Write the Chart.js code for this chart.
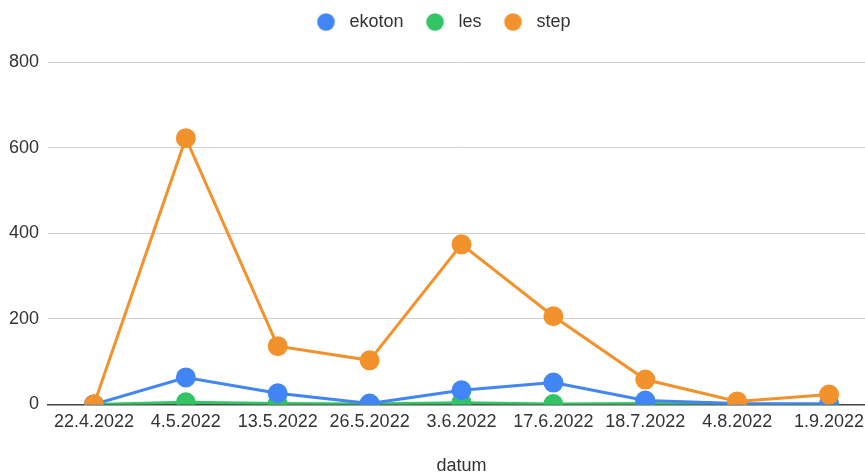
<!DOCTYPE html>
<html>
<head>
<meta charset="utf-8">
<script src="https://cdn.jsdelivr.net/npm/chart.js@4/dist/chart.umd.min.js"></script>
<style>
  html, body { margin: 0; padding: 0; background: #fff; overflow: hidden; }
  #wrap { width: 875px; height: 475px; }
</style>
</head>
<body>
<div id="wrap"><canvas id="lineReport"></canvas></div>
<script>
const dates = ["22.4.2022", "4.5.2022", "13.5.2022", "26.5.2022", "3.6.2022", "17.6.2022", "18.7.2022", "4.8.2022", "1.9.2022"];
const ekoton = [0, 63, 26, 2, 33, 51, 9, 2, 1];
const les = [0, 5, 2, 1, 4, 1, 2, 0, 1];
const step = [0, 622, 136, 103, 374, 206, 58, 7, 23];
const yTicks = [0, 200, 400, 600, 800];
const legendOrder = ["ekoton", "les", "step"];

const fontFamily = "Arial, 'Liberation Sans', sans-serif";

// legend marker: circle set inside a wider box so items get their spacing
function legendDot(color) {
  let c = document.createElement("canvas");
  c.width = 36;
  c.height = 18;
  let g = c.getContext("2d");
  g.fillStyle = color;
  g.beginPath();
  g.arc(21.5, 9, 8.8, 0, Math.PI * 2);
  g.fill();
  return c;
}

function series(label, data, color) {
  return {
    label: label,
    data: data,
    borderColor: color,
    backgroundColor: color,
    pointBackgroundColor: color,
    pointBorderColor: color,
    pointStyle: legendDot(color),
    borderWidth: 3,
    pointRadius: 8.5,
    pointHoverRadius: 8.5,
    tension: 0
  };
}

// points themselves stay plain circles
const circlePoints = {
  id: "circlePoints",
  beforeDatasetsDraw(chart) {
    chart.data.datasets.forEach((ds, i) => {
      chart.getDatasetMeta(i).data.forEach(pt => { pt.options.pointStyle = "circle"; });
    });
  }
};

// extra room under the legend
const legendGap = {
  id: "legendGap",
  beforeLayout(chart) {
    let lg = chart.legend;
    if (lg && !lg._gapAdded) {
      let fit = lg.fit;
      lg.fit = function() {
        fit.call(this);
        this.height += 21;
      };
      lg._gapAdded = true;
    }
  }
};

let ctx = document.getElementById("lineReport").getContext("2d");
new Chart(ctx, {
  type: "line",
  plugins: [circlePoints, legendGap],
  data: {
    labels: dates,
    datasets: [
      series("step", step, "#f2922c"),
      series("ekoton", ekoton, "#4285f4"),
      series("les", les, "#33c465")
    ]
  },
  options: {
    responsive: true,
    maintainAspectRatio: false,
    animation: false,
    layout: { autoPadding: false, padding: { top: 3, right: 0, bottom: 0, left: 0 } },
    plugins: {
      legend: {
        position: "top",
        labels: {
          usePointStyle: true,
          boxHeight: 12,
          pointStyleWidth: 36,
          padding: 10,
          color: "#333",
          font: { family: fontFamily, size: 18 },
          sort: (a, b) => legendOrder.indexOf(a.text) - legendOrder.indexOf(b.text)
        }
      },
      tooltip: { enabled: false }
    },
    scales: {
      x: {
        offset: true,
        grid: { display: false, drawTicks: false },
        border: { display: true, color: "#444", width: 1.5 },
        ticks: {
          color: "#333",
          padding: 7,
          maxRotation: 0,
          autoSkip: false,
          font: { family: fontFamily, size: 18 }
        },
        title: {
          display: true,
          text: "datum",
          color: "#333",
          padding: { top: 17, bottom: 0 },
          font: { family: fontFamily, size: 18, lineHeight: 1 }
        }
      },
      y: {
        min: 0,
        max: 800,
        afterBuildTicks: axis => { axis.ticks = yTicks.map(v => ({ value: v })); },
        afterFit: axis => { axis.width = 48; },
        grid: { color: "#d0d0d0", drawTicks: false },
        border: { display: false },
        ticks: {
          color: "#333",
          padding: 9,
          font: { family: fontFamily, size: 18 }
        }
      }
    }
  }
});
</script>
</body>
</html>
